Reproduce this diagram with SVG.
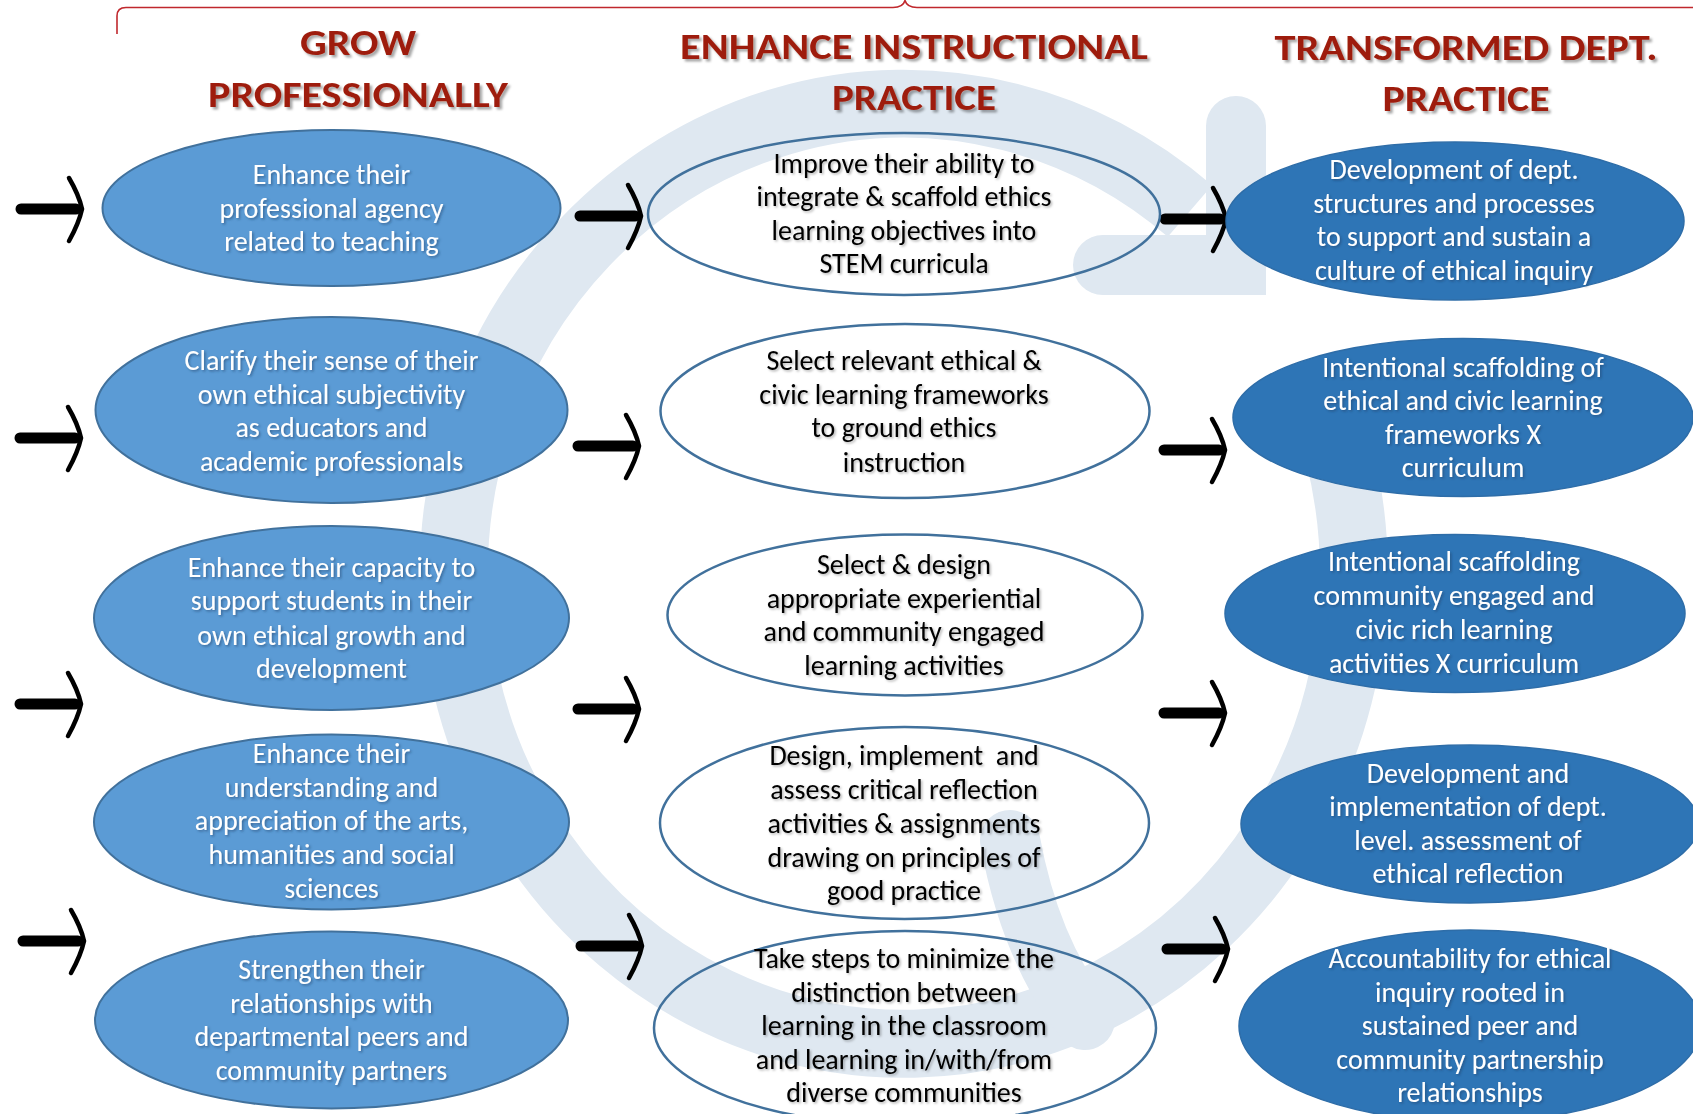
<svg xmlns="http://www.w3.org/2000/svg" xmlns:xlink="http://www.w3.org/1999/xlink" width="1693" height="1114" viewBox="0 0 1693 1114">
<defs>
<style>
.t{font-family:Carlito,Calibri,Lato,"Open Sans",sans-serif;font-size:28px;text-anchor:middle}
.w{fill:#ffffff;filter:url(#shw)}
.k{fill:#000000;filter:url(#shk)}
.ttl{font-family:Carlito,Calibri,Lato,"Open Sans",sans-serif;font-weight:900;font-size:37px;fill:#9E1E0C;text-anchor:middle;filter:url(#sht)}
.el{fill:#5B9BD5;stroke:#41719C;stroke-width:2}
.em{fill:none;stroke:#41719C;stroke-width:2.5}
.er{fill:#2E75B6;stroke:#2E6DA8;stroke-width:1.5}
.wm{fill:none;stroke:#DFE8F1;stroke-width:68}
.pre{white-space:pre}
</style>
<filter id="shw" x="-10%" y="-30%" width="120%" height="160%"><feDropShadow dx="1.5" dy="1.5" stdDeviation="0.8" flood-color="#1F3F66" flood-opacity="0.55"/></filter>
<filter id="shk" x="-10%" y="-30%" width="120%" height="160%"><feDropShadow dx="1.5" dy="1.5" stdDeviation="0.8" flood-color="#000" flood-opacity="0.3"/></filter>
<filter id="sht" x="-10%" y="-30%" width="120%" height="160%"><feDropShadow dx="2.5" dy="2.5" stdDeviation="1" flood-color="#000" flood-opacity="0.35"/></filter>
<g id="arr">
<path d="M5 0 H60" stroke="#000" stroke-width="11" stroke-linecap="round" fill="none"/>
<path d="M53 -31 Q63 -14 66 0 Q63 14 53 32" stroke="#000" stroke-width="4.5" stroke-linecap="round" fill="none"/>
</g>
</defs>
<rect width="1693" height="1114" fill="#ffffff"/>

<g id="watermark">
<path class="wm" d="M1322 400 A450 470 0 1 1 1190 211"/>
<path class="wm" d="M1236 126 L1236 265 L1103 265" stroke-linecap="round" stroke-linejoin="miter" style="stroke-width:60"/>
<path class="wm" d="M1010 840 Q1030 950 1085 1020" stroke-linecap="round" style="stroke-width:60"/>
</g>

<path id="brace" d="M117 34 L117 16 Q117 7.5 126 7.5 L893 7.5 Q903 7.5 905 0.5 Q907 7.5 917 7.5 L1693 7.5" fill="none" stroke="#C0282D" stroke-width="1.6"/>

<g id="titles">
<text class="ttl" x="358" y="55" textLength="116" lengthAdjust="spacingAndGlyphs">GROW</text>
<text class="ttl" x="358" y="107" textLength="300" lengthAdjust="spacingAndGlyphs">PROFESSIONALLY</text>
<text class="ttl" x="914" y="59" textLength="468" lengthAdjust="spacingAndGlyphs">ENHANCE INSTRUCTIONAL</text>
<text class="ttl" x="914" y="110" textLength="164" lengthAdjust="spacingAndGlyphs">PRACTICE</text>
<text class="ttl" x="1466" y="60" textLength="383" lengthAdjust="spacingAndGlyphs">TRANSFORMED DEPT.</text>
<text class="ttl" x="1466" y="111" textLength="167" lengthAdjust="spacingAndGlyphs">PRACTICE</text>
</g>

<g id="connectors">
<use href="#arr" x="16" y="209"/>
<use href="#arr" x="15" y="438"/>
<use href="#arr" x="15" y="704"/>
<use href="#arr" x="18" y="941"/>
<use href="#arr" x="575" y="216"/>
<use href="#arr" x="573" y="446"/>
<use href="#arr" x="573" y="709"/>
<use href="#arr" x="576" y="946"/>
<use href="#arr" x="1160" y="219"/>
<use href="#arr" x="1159" y="450"/>
<use href="#arr" x="1159" y="713"/>
<use href="#arr" x="1162" y="949"/>
</g>

<g id="grow-1"><ellipse class="el" cx="331.5" cy="208" rx="229" ry="78"/>
<text class="t w"><tspan x="331.5" y="184">Enhance their</tspan><tspan x="331.5" y="218">professional agency</tspan><tspan x="331.5" y="251">related to teaching</tspan></text></g>
<g id="grow-2"><ellipse class="el" cx="331.5" cy="410" rx="236" ry="93"/>
<text class="t w"><tspan x="331.5" y="370">Clarify their sense of their</tspan><tspan x="331.5" y="404">own ethical subjectivity</tspan><tspan x="331.5" y="437">as educators and</tspan><tspan x="331.5" y="471">academic professionals</tspan></text></g>
<g id="grow-3"><ellipse class="el" cx="331.5" cy="618" rx="237.5" ry="92"/>
<text class="t w"><tspan x="331.5" y="577">Enhance their capacity to</tspan><tspan x="331.5" y="610">support students in their</tspan><tspan x="331.5" y="645">own ethical growth and</tspan><tspan x="331.5" y="678">development</tspan></text></g>
<g id="grow-4"><ellipse class="el" cx="331.5" cy="822" rx="237.5" ry="87.5"/>
<text class="t w"><tspan x="331.5" y="763">Enhance their</tspan><tspan x="331.5" y="797">understanding and</tspan><tspan x="331.5" y="830">appreciation of the arts,</tspan><tspan x="331.5" y="864">humanities and social</tspan><tspan x="331.5" y="898">sciences</tspan></text></g>
<g id="grow-5"><ellipse class="el" cx="331.5" cy="1020" rx="236.5" ry="88.5"/>
<text class="t w"><tspan x="331.5" y="979">Strengthen their</tspan><tspan x="331.5" y="1013">relationships with</tspan><tspan x="331.5" y="1046">departmental peers and</tspan><tspan x="331.5" y="1080">community partners</tspan></text></g>

<g id="enhance-1"><ellipse class="em" cx="904" cy="214" rx="256" ry="81"/>
<text class="t k"><tspan x="904" y="173">Improve their ability to</tspan><tspan x="904" y="206">integrate &amp; scaffold ethics</tspan><tspan x="904" y="240">learning objectives into</tspan><tspan x="904" y="273">STEM curricula</tspan></text></g>
<g id="enhance-2"><ellipse class="em" cx="905" cy="411" rx="244.5" ry="87"/>
<text class="t k"><tspan x="904" y="370">Select relevant ethical &amp;</tspan><tspan x="904" y="404">civic learning frameworks</tspan><tspan x="904" y="437">to ground ethics</tspan><tspan x="904" y="472">instruction</tspan></text></g>
<g id="enhance-3"><ellipse class="em" cx="905" cy="615" rx="237.5" ry="80.5"/>
<text class="t k"><tspan x="904" y="574">Select &amp; design</tspan><tspan x="904" y="608">appropriate experiential</tspan><tspan x="904" y="641">and community engaged</tspan><tspan x="904" y="675">learning activities</tspan></text></g>
<g id="enhance-4"><ellipse class="em" cx="904.5" cy="823" rx="244.5" ry="96"/>
<text class="t k"><tspan class="pre" x="904" y="765">Design, implement  and</tspan><tspan x="904" y="799">assess critical reflection</tspan><tspan x="904" y="833">activities &amp; assignments</tspan><tspan x="904" y="867">drawing on principles of</tspan><tspan x="904" y="900">good practice</tspan></text></g>
<g id="enhance-5"><ellipse class="em" cx="905" cy="1028" rx="251" ry="97"/>
<text class="t k"><tspan x="904" y="968">Take steps to minimize the</tspan><tspan x="904" y="1002">distinction between</tspan><tspan x="904" y="1035">learning in the classroom</tspan><tspan x="904" y="1069">and learning in/with/from</tspan><tspan x="904" y="1102">diverse communities</tspan></text></g>

<g id="transform-1"><ellipse class="er" cx="1455" cy="221" rx="229" ry="79"/>
<text class="t w"><tspan x="1454" y="179">Development of dept.</tspan><tspan x="1454" y="213">structures and processes</tspan><tspan x="1454" y="246">to support and sustain a</tspan><tspan x="1454" y="280">culture of ethical inquiry</tspan></text></g>
<g id="transform-2"><ellipse class="er" cx="1463" cy="417.5" rx="230" ry="79"/>
<text class="t w"><tspan x="1463" y="377">Intentional scaffolding of</tspan><tspan x="1463" y="410">ethical and civic learning</tspan><tspan x="1463" y="444">frameworks X</tspan><tspan x="1463" y="477">curriculum</tspan></text></g>
<g id="transform-3"><ellipse class="er" cx="1455" cy="613.5" rx="230" ry="79"/>
<text class="t w"><tspan x="1454" y="571">Intentional scaffolding</tspan><tspan x="1454" y="605">community engaged and</tspan><tspan x="1454" y="639">civic rich learning</tspan><tspan x="1454" y="673">activities X curriculum</tspan></text></g>
<g id="transform-4"><ellipse class="er" cx="1470" cy="824" rx="229" ry="79"/>
<text class="t w"><tspan x="1468" y="783">Development and</tspan><tspan x="1468" y="816">implementation of dept.</tspan><tspan x="1468" y="850">level. assessment of</tspan><tspan x="1468" y="883">ethical reflection</tspan></text></g>
<g id="transform-5"><ellipse class="er" cx="1470" cy="1026" rx="231" ry="96"/>
<text class="t w"><tspan x="1470" y="968">Accountability for ethical</tspan><tspan x="1470" y="1002">inquiry rooted in</tspan><tspan x="1470" y="1035">sustained peer and</tspan><tspan x="1470" y="1069">community partnership</tspan><tspan x="1470" y="1102">relationships</tspan></text></g>
</svg>
